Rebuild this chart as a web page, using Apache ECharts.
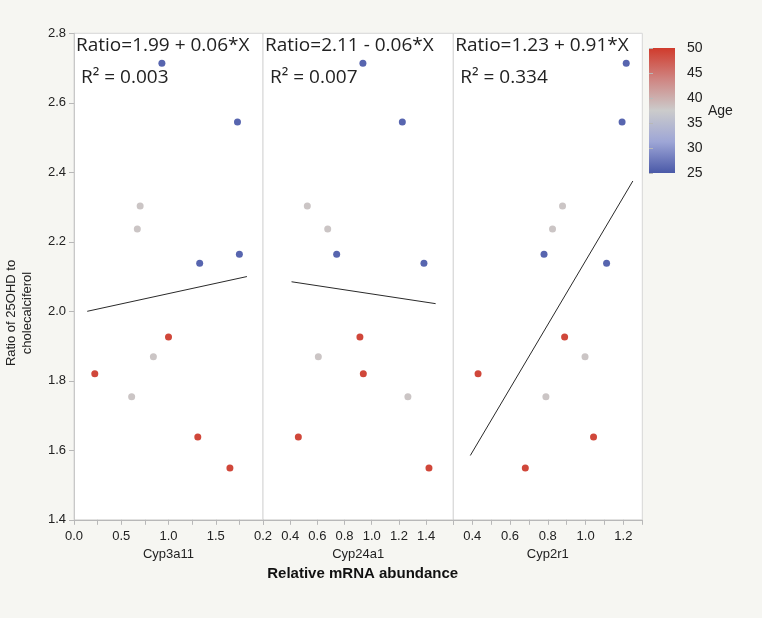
<!DOCTYPE html>
<html>
<head>
<meta charset="utf-8">
<script src="https://cdn.jsdelivr.net/npm/echarts@6/dist/echarts.min.js"></script>
<style>
html,body{margin:0;padding:0;background:#f6f6f2;}
#chart{width:762px;height:618px;}
</style>
</head>
<body>
<div id="chart"></div>
<script>
// ---- data ----
const genes = ['Cyp3a11', 'Cyp24a1', 'Cyp2r1'];
const ratio = [2.714, 2.545, 2.303, 2.237, 2.164, 2.138, 1.926, 1.869, 1.820, 1.754, 1.638, 1.549];
const age = [26, 26, 38, 38, 26, 26, 49, 38, 49, 38, 49, 49];
const cyp3a11 = [0.93, 1.73, 0.70, 0.67, 1.75, 1.33, 1.00, 0.84, 0.22, 0.61, 1.31, 1.65];
const cyp24a1 = [0.935, 1.225, 0.526, 0.676, 0.742, 1.384, 0.913, 0.607, 0.938, 1.266, 0.460, 1.421];
const cyp2r1 = [1.215, 1.193, 0.878, 0.825, 0.780, 1.111, 0.889, 0.997, 0.431, 0.790, 1.042, 0.681];
const equations = ['Ratio=1.99 + 0.06*X', 'Ratio=2.11 - 0.06*X', 'Ratio=1.23 + 0.91*X'];
const r2Labels = ['R\u00B2 = 0.003', 'R\u00B2 = 0.007', 'R\u00B2 = 0.334'];
const fitX = [[0.14, 1.83], [0.41, 1.47], [0.39, 1.25]];
const fitY = [[2.00, 2.10], [2.085, 2.022], [1.585, 2.375]];
const xMin = [0, 0.2, 0.3];
const xMax = [2, 1.6, 1.3];
const xStep = [0.25, 0.2, 0.1];
const yMin = 1.4, yMax = 2.8, yStep = 0.2;
const ageMin = 25, ageMax = 50, ageStep = 5;
const yTitle = 'Ratio of 25OHD to\ncholecalciferol';
const xTitle = 'Relative mRNA abundance';
const legendTitle = 'Age';

// ---- styling ----
const xs = [cyp3a11, cyp24a1, cyp2r1];
const rampColors = ['#4a59a8', '#9ea6d6', '#cbcbcb', '#cf8582', '#d03b2c'];
const FONT = 'Liberation Sans, Arial, sans-serif';
const EQFONT = 'Open Sans, Noto Sans, sans-serif';
const gridLeft = [74, 263, 453.3];
const gridW = [189, 190.3, 189];
const gridTop = 33.3, gridH = 486.5;

const chart = echarts.init(document.getElementById('chart'));

const labelFormatters = [
  v => (Math.abs(v / 0.5 - Math.round(v / 0.5)) < 1e-6 && v < 1.99) ? v.toFixed(1) : '',
  v => (v < 1.55) ? v.toFixed(1) : '',
  v => (Math.abs(v * 10 / 2 - Math.round(v * 10 / 2)) < 1e-6 && v > 0.35 && v < 1.25) ? v.toFixed(1) : ''
];

const grids = [], xAxes = [], yAxes = [], series = [], titles = [];
for (let i = 0; i < 3; i++) {
  grids.push({left: gridLeft[i], top: gridTop, width: gridW[i], height: gridH,
    show: true, backgroundColor: '#ffffff', borderColor: '#d6d6d6', borderWidth: 1});
  xAxes.push({type: 'value', gridIndex: i, min: xMin[i], max: xMax[i], interval: xStep[i],
    name: genes[i], nameLocation: 'middle', nameGap: 27,
    nameTextStyle: {fontFamily: FONT, fontSize: 13, color: '#222'},
    axisLine: {lineStyle: {color: '#b8b8b8'}},
    axisTick: {show: true, length: 5, lineStyle: {color: '#b8b8b8'}},
    axisLabel: {fontFamily: FONT, fontSize: 13, color: '#222', margin: 10, formatter: labelFormatters[i], showMinLabel: true, showMaxLabel: true},
    splitLine: {show: false}});
  yAxes.push({type: 'value', gridIndex: i, min: yMin, max: yMax, interval: yStep,
    show: i === 0,
    axisLine: {show: true, lineStyle: {color: '#c8c8c8'}},
    axisTick: {show: true, length: 5, lineStyle: {color: '#b8b8b8'}},
    axisLabel: {fontFamily: FONT, fontSize: 13, color: '#222', margin: 8, formatter: v => v.toFixed(1)},
    splitLine: {show: false}});
  series.push({type: 'scatter', xAxisIndex: i, yAxisIndex: i, symbolSize: 7,
    itemStyle: {opacity: 1},
    data: xs[i].map((x, k) => [x, ratio[k], age[k]]), z: 3});
  series.push({type: 'line', xAxisIndex: i, yAxisIndex: i, symbol: 'none', silent: true,
    lineStyle: {color: '#2a2a2a', width: 1},
    data: fitX[i].map((x, k) => [x, fitY[i][k]]), z: 2});
  titles.push({text: equations[i], left: gridLeft[i] + 2, top: 36, padding: 0,
    textStyle: {fontFamily: EQFONT, fontSize: 19, fontWeight: 'normal', color: '#222'}});
  titles.push({text: r2Labels[i], left: gridLeft[i] + 7, top: 68, padding: 0,
    textStyle: {fontFamily: EQFONT, fontSize: 19, fontWeight: 'normal', color: '#222'}});
}

// colour bar as its own small grid with an Age axis
grids.push({left: 649, top: 48, width: 26, height: 125, show: true, borderWidth: 0,
  backgroundColor: new echarts.graphic.LinearGradient(0, 0, 0, 1, rampColors.slice().reverse().map((c, k, a) => ({offset: k / (a.length - 1), color: c})))});
xAxes.push({type: 'value', gridIndex: 3, show: false, min: 0, max: 1});
yAxes.push({type: 'value', gridIndex: 3, position: 'right', min: ageMin, max: ageMax, interval: ageStep,
  axisLine: {show: true, lineStyle: {color: 'rgba(0,0,0,0)'}},
  axisTick: {show: true, length: 4, inside: false, lineStyle: {color: '#b8b8b8'}},
  axisLabel: {fontFamily: FONT, fontSize: 14, color: '#222', margin: 12},
  splitLine: {show: false}});

chart.setOption({
  backgroundColor: '#f6f6f2',
  animation: false,
  title: titles,
  grid: grids,
  xAxis: xAxes,
  yAxis: yAxes,
  visualMap: {show: false, type: 'continuous', min: ageMin, max: ageMax, dimension: 2,
    seriesIndex: [0, 2, 4], inRange: {color: rampColors, opacity: 1}},
  graphic: [
    {type: 'text', x: 19.5, y: 313, rotation: Math.PI / 2,
      style: {text: yTitle, fontFamily: FONT, fontSize: 13, lineHeight: 16.5, fill: '#222', textAlign: 'center', textVerticalAlign: 'middle'}},
    {type: 'text', x: 362.7, y: 573.5,
      style: {text: xTitle, fontFamily: FONT, fontSize: 15, fontWeight: 'bold', fill: '#111', textAlign: 'center', textVerticalAlign: 'middle'}},
    {type: 'text', x: 708, y: 111,
      style: {text: legendTitle, fontFamily: FONT, fontSize: 14, fill: '#222', textAlign: 'left', textVerticalAlign: 'middle'}}
  ],
  series: series
});
</script>
</body>
</html>
